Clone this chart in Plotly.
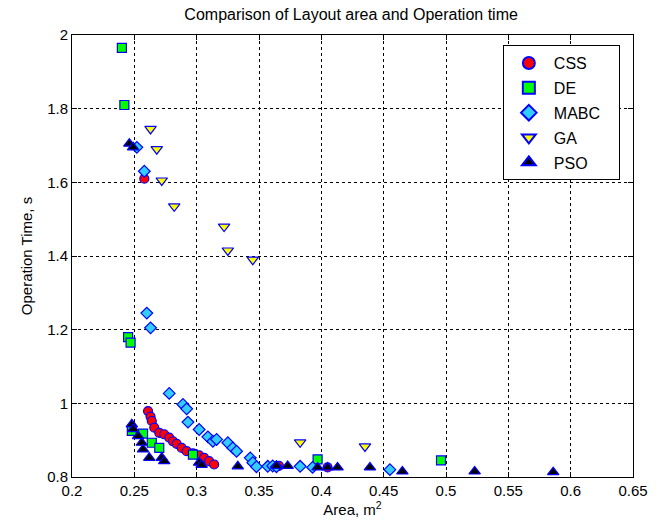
import plotly.graph_objects as go

# ---- data ----
css_x = [0.258, 0.261, 0.263, 0.264, 0.266, 0.270, 0.274, 0.278, 0.281, 0.284, 0.288,
         0.292, 0.297, 0.302, 0.306, 0.310, 0.314, 0.366, 0.405]
css_y = [1.610, 0.979, 0.964, 0.952, 0.934, 0.920, 0.916, 0.907, 0.897, 0.890, 0.879,
         0.870, 0.864, 0.859, 0.852, 0.843, 0.834, 0.830, 0.826]

de_x = [0.240, 0.242, 0.245, 0.247, 0.248, 0.257, 0.264, 0.270, 0.297, 0.397, 0.496]
de_y = [1.965, 1.810, 1.180, 1.165, 0.925, 0.918, 0.893, 0.879, 0.861, 0.848, 0.845]

mabc_x = [0.252, 0.258, 0.260, 0.263, 0.278, 0.289, 0.292, 0.293, 0.302, 0.309, 0.313,
          0.316, 0.325, 0.329, 0.332, 0.343, 0.345, 0.348, 0.357, 0.361, 0.364, 0.383,
          0.393, 0.455]
mabc_y = [1.695, 1.630, 1.245, 1.205, 1.027, 0.997, 0.985, 0.949, 0.929, 0.909, 0.897,
          0.902, 0.893, 0.879, 0.870, 0.852, 0.839, 0.828, 0.829, 0.830, 0.828, 0.829,
          0.826, 0.820]

ga_x = [0.263, 0.268, 0.272, 0.282, 0.322, 0.325, 0.345, 0.383, 0.435]
ga_y = [1.745, 1.690, 1.605, 1.535, 1.480, 1.415, 1.390, 0.894, 0.883]

pso_x = [0.246, 0.249, 0.248, 0.249, 0.253, 0.256, 0.257, 0.262, 0.272, 0.274, 0.302,
         0.304, 0.333, 0.364, 0.373, 0.397, 0.405, 0.413, 0.439, 0.465, 0.523, 0.586]
pso_y = [1.705, 1.695, 0.943, 0.930, 0.911, 0.893, 0.875, 0.852, 0.852, 0.843, 0.839,
         0.833, 0.829, 0.830, 0.830, 0.826, 0.826, 0.826, 0.826, 0.815, 0.815, 0.813]

x_ticks = [0.2, 0.25, 0.3, 0.35, 0.4, 0.45, 0.5, 0.55, 0.6, 0.65]
x_tick_labels = ["0.2", "0.25", "0.3", "0.35", "0.4", "0.45", "0.5", "0.55", "0.6", "0.65"]
y_ticks = [0.8, 1.0, 1.2, 1.4, 1.6, 1.8, 2.0]
y_tick_labels = ["0.8", "1", "1.2", "1.4", "1.6", "1.8", "2"]

series = [
    ("CSS", css_x, css_y, "circle", "#ff0000", 9),
    ("DE", de_x, de_y, "square", "#00ff00", 9),
    ("MABC", mabc_x, mabc_y, "diamond", "#33ccff", 9),
    ("GA", ga_x, ga_y, "triangle-down", "#ffff00", 10),
    ("PSO", pso_x, pso_y, "triangle-up", "#000000", 10),
]

FONT = "Liberation Sans, Arial, sans-serif"
PAD = "\u00a0" * 3

fig = go.Figure()
for name, xs, ys, sym, col, sz in series:
    fig.add_trace(go.Scatter(
        x=xs, y=ys, mode="markers", name=name + PAD, legendgroup=name,
        marker=dict(symbol=sym, color=col, size=sz,
                    line=dict(color="#0000ff", width=1.2)),
    ))

axis_common = dict(
    showline=True, linecolor="black", linewidth=1, mirror="allticks",
    ticks="inside", ticklen=5, tickcolor="black",
    showgrid=True, gridcolor="black", gridwidth=1, griddash="3px,3px",
    zeroline=False, tickfont=dict(family=FONT, size=15, color="black"),
)

fig.update_layout(
    width=665, height=532,
    margin=dict(l=72, r=32, t=35, b=55),
    paper_bgcolor="white", plot_bgcolor="white",
    title=dict(text="Comparison of Layout area and Operation time",
               x=0.528, xanchor="center", y=0.972, yanchor="middle",
               font=dict(family=FONT, size=16, color="black")),
    xaxis=dict(range=[0.2, 0.65], tickvals=x_ticks, ticktext=x_tick_labels,
               title=dict(text="Area, m<sup>2</sup>", standoff=4,
                          font=dict(family=FONT, size=15, color="black")),
               **axis_common),
    yaxis=dict(range=[0.8, 2.0], tickvals=y_ticks, ticktext=y_tick_labels,
               title=dict(text="Operation Time, s", standoff=10,
                          font=dict(family=FONT, size=15, color="black")),
               **axis_common),
    legend=dict(x=0.768, y=0.977, xanchor="left", yanchor="top",
                bgcolor="white", bordercolor="black", borderwidth=1,
                font=dict(family=FONT, size=16, color="black"),
                itemsizing="constant", itemwidth=40, tracegroupgap=1),
    showlegend=True,
)

fig.write_html("out.html")
